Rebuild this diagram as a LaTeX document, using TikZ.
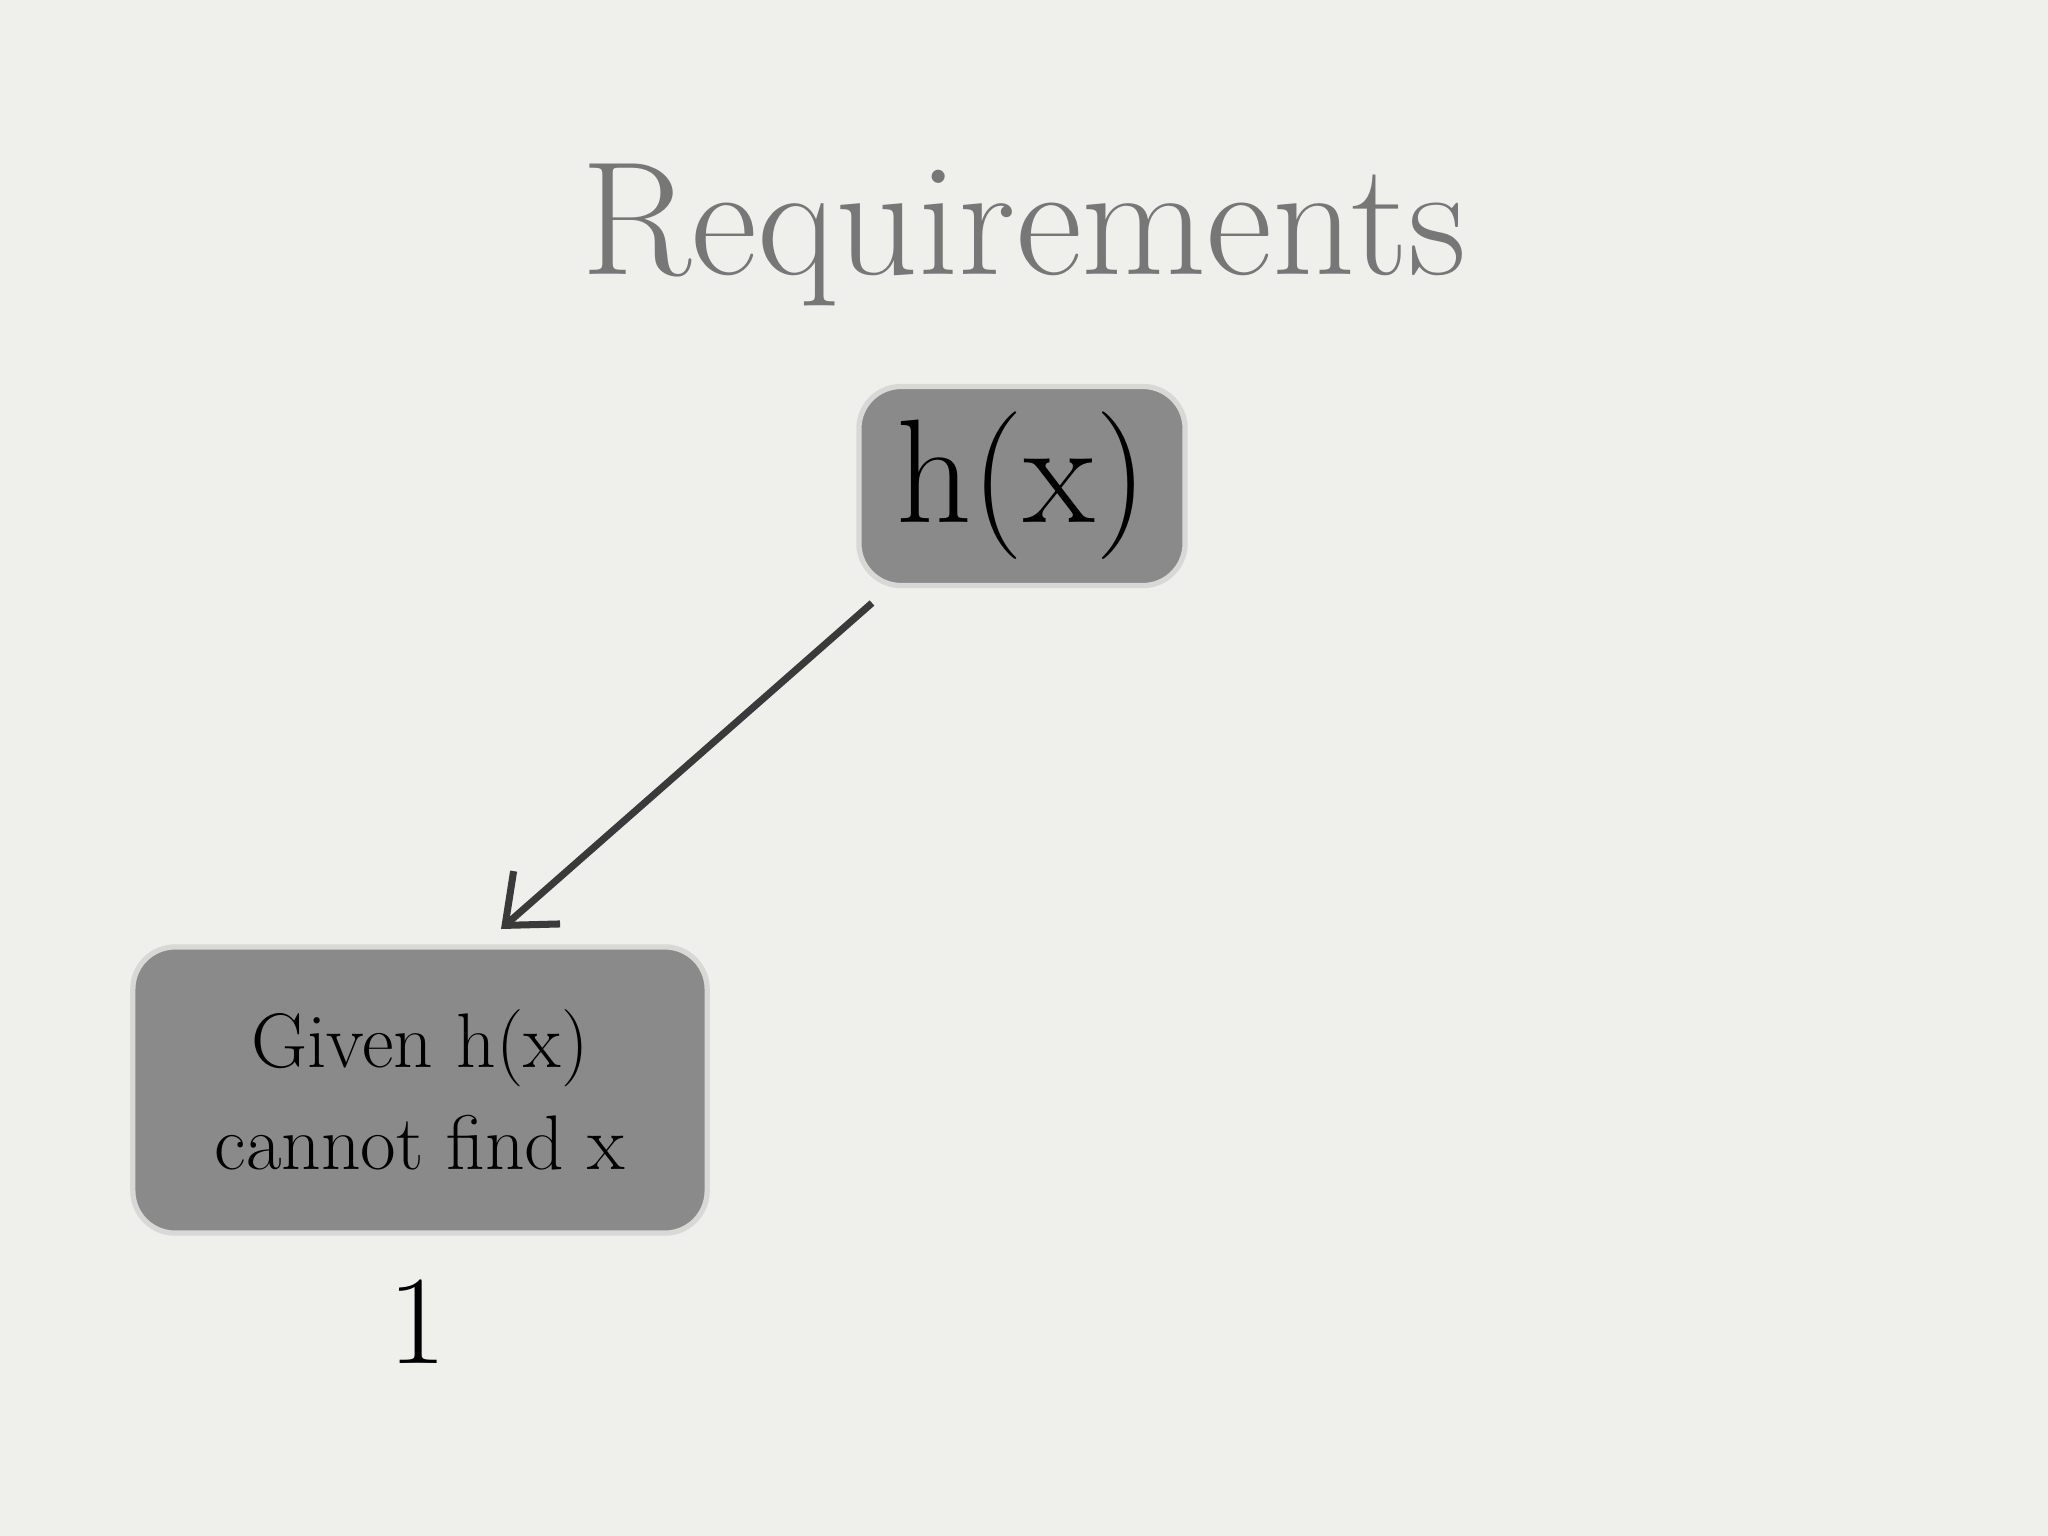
\documentclass[tikz,border=0pt]{standalone}
\usetikzlibrary{arrows.meta}
\definecolor{bg}{HTML}{EFEFEC}
\definecolor{boxfill}{HTML}{8A8A8A}
\definecolor{boxline}{HTML}{D8D8D6}
\definecolor{titlec}{HTML}{777777}
\definecolor{arrowc}{HTML}{3A3A3A}
\tikzset{
  gbox/.style={draw=boxline, line width=1.5pt, fill=boxfill, rounded corners=12pt, inner sep=0pt, text=black},
  conn/.style={draw=arrowc, line width=2pt, -{Straight Barb[length=12pt,width=20pt,line width=2pt]}}
}
\begin{document}
\begin{tikzpicture}[x=0.01cm,y=-0.01cm]
\fill[bg] (0,0) rectangle (2048,1536);
\useasboundingbox (0,0) rectangle (2048,1536);
\node[text=titlec, font=\fontsize{46}{50}\selectfont] (title) at (1024,235) {Requirements};
\node[gbox, minimum width=326\pgflinewidth*0+3.26cm, minimum height=1.99cm, font=\fontsize{42}{46}\selectfont] (hx) at (1022,486) {h(x)};
\node[gbox, minimum width=5.74cm, minimum height=2.86cm, align=center, font=\fontsize{22}{29}\selectfont] (given) at (420,1090) {Given h(x)\\cannot find x};
\node[font=\fontsize{36}{40}\selectfont] (one) at (418,1322) {1};
\coordinate (a) at (872,603);
\coordinate (b) at (501,929);
\draw[conn] (a) -- (b);
\end{tikzpicture}
\end{document}
